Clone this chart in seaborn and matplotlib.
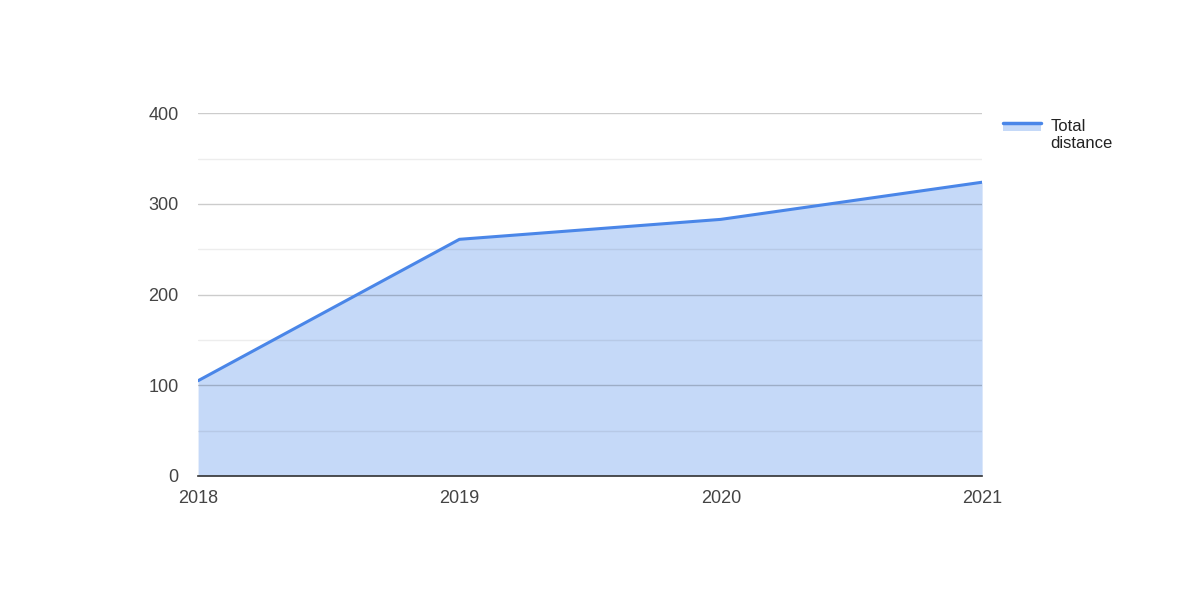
import matplotlib.pyplot as plt
import seaborn as sns
import pandas as pd
from matplotlib.patches import Rectangle
from matplotlib.lines import Line2D
from matplotlib.legend_handler import HandlerBase

years = [2018, 2019, 2020, 2021]
total_distance = [105, 261, 283, 324]
year_labels = ['2018', '2019', '2020', '2021']

df = pd.DataFrame({'year': years, 'total_distance': total_distance})

sns.set_style('white')
plt.rcParams['font.family'] = ['Liberation Sans', 'DejaVu Sans']

line_color = '#4a86e8'
fill_color = '#c5d9f8'
text_color = '#444444'


class AreaHandler(HandlerBase):
    # line with a band of fill under it, lined up with the first text line
    def create_artists(self, legend, orig_handle, xdescent, ydescent,
                       width, height, fontsize, trans):
        y = height / 2 - ydescent + 8.6
        band = Rectangle((-xdescent, y - 6), width, 6, facecolor=fill_color,
                         edgecolor='none', transform=trans)
        line = Line2D([-xdescent, -xdescent + width], [y, y], color=line_color,
                      linewidth=2.5, transform=trans)
        return [band, line]


fig = plt.figure(figsize=(11.79, 5.89), dpi=100)
ax = fig.add_axes([0.168, 0.192, 0.665, 0.6156])

ax.fill_between(df['year'], df['total_distance'], 0, color=fill_color, linewidth=0, zorder=2)
sns.lineplot(data=df, x='year', y='total_distance', color=line_color, linewidth=2.2, ax=ax, zorder=3)

ax.set_xlim(2018, 2021)
ax.set_ylim(0, 400)
ax.set_xticks(years)
ax.set_xticklabels(year_labels)
ax.set_yticks([0, 100, 200, 300, 400])
ax.set_yticks([50, 150, 250, 350], minor=True)
ax.grid(True, which='major', axis='y', color='black', alpha=0.2, linewidth=1, zorder=2.5)
ax.grid(True, which='minor', axis='y', color='black', alpha=0.07, linewidth=1, zorder=2.5)
ax.set_axisbelow(False)
ax.tick_params(axis='both', which='both', length=0, labelsize=13, colors=text_color)
ax.tick_params(axis='y', pad=14)
ax.tick_params(axis='x', pad=10)
ax.set_xlabel('')
ax.set_ylabel('')
for s in ['top', 'right', 'left']:
    ax.spines[s].set_visible(False)
ax.spines['bottom'].set_color('#333333')
ax.spines['bottom'].set_linewidth(1.2)
ax.spines['bottom'].set_zorder(4)

proxy = Line2D([], [], color=line_color)
leg = fig.legend([proxy], ['Total\ndistance'], loc='upper left',
                 bbox_to_anchor=(0.838, 0.824), frameon=False, fontsize=12,
                 handlelength=2.3, handletextpad=0.55,
                 handler_map={proxy: AreaHandler()})
for t in leg.get_texts():
    t.set_color('#222222')

fig.savefig('out.png', dpi=100)
